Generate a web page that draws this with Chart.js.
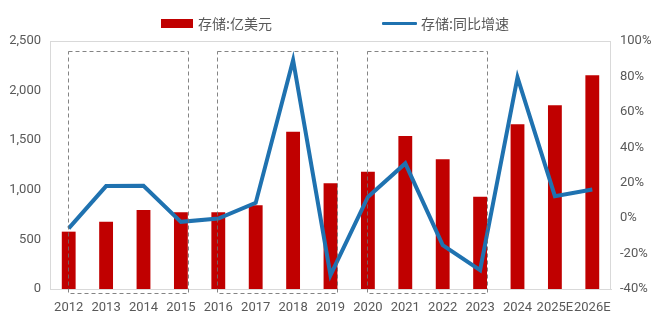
<!DOCTYPE html>
<html>
<head>
<meta charset="utf-8">
<script src="https://cdn.jsdelivr.net/npm/chart.js@4.4.1/dist/chart.umd.min.js"></script>
<style>
  html, body { margin: 0; padding: 0; background: #fff; }
  #wrap { position: relative; width: 660px; height: 324px; }
  #legend {
    position: absolute; top: 13px; left: 0; width: 660px; height: 20px;
    font-family: "Noto Sans CJK SC", sans-serif; font-size: 14px; color: #595959;
  }
  .item { position: absolute; top: 0; display: flex; align-items: center; height: 20px; }
  .swatch-bar { width: 32px; height: 9px; background: #c00000; margin-right: 5px; }
  .swatch-line { width: 35px; height: 3px; background: #1f72b0; margin-right: 4px; border-radius: 1px; }
</style>
</head>
<body>
<div id="wrap">
  <div id="legend">
    <div class="item" style="left:161px"><span class="swatch-bar"></span><span>存储:亿美元</span></div>
    <div class="item" style="left:382px"><span class="swatch-line"></span><span>存储:同比增速</span></div>
  </div>
  <canvas id="chart" width="660" height="324"></canvas>
</div>
<script>
/* ================= DATA ================= */

const years = ["2012", "2013", "2014", "2015", "2016", "2017", "2018", "2019",
  "2020", "2021", "2022", "2023", "2024", "2025E", "2026E"];

// 存储市场规模（亿美元）
const storageValue = [578, 678, 796, 773, 773, 843, 1586, 1065,
  1183, 1542, 1307, 930, 1660, 1852, 2154];

// 存储同比增速（%）
const storageGrowth = [-5.8, 18.1, 18.3, -2.1, -0.2, 8.6, 89.2, -32.2,
  12.0, 30.9, -15.2, -29.4, 79.4, 12.4, 16.2];

// dashed cycle boxes
const boxStart = ["2012", "2016", "2020"];
const boxEnd = ["2015", "2019", "2023"];
const boxTopValue = 2400;

const leftTicks = [0, 500, 1000, 1500, 2000, 2500];
const rightTicks = [-40, -20, 0, 20, 40, 60, 80, 100];

const tickFont = { family: "Roboto", size: 13 };
const tickColor = "#595959";

/* ================= PLUGINS ================= */

const frameAndBoxes = {
  id: "frameAndBoxes",
  afterDatasetsDraw(chart) {
    const { ctx, chartArea, scales } = chart;
    const x = scales.x;
    const y = scales.y;
    const step = x.getPixelForValue(1) - x.getPixelForValue(0);
    const barHalf = step * 0.37 / 2;

    ctx.save();
    ctx.strokeStyle = "#d9d9d9";
    ctx.lineWidth = 1;
    ctx.strokeRect(chartArea.left + 0.5, chartArea.top + 0.5,
      chartArea.width - 1, chartArea.height);

    ctx.strokeStyle = "rgba(110,110,110,0.85)";
    ctx.setLineDash([4, 3]);
    const top = Math.round(y.getPixelForValue(boxTopValue)) + 0.5;
    const bottom = chartArea.bottom + 4.5;
    boxStart.forEach((s, i) => {
      const l = Math.round(x.getPixelForValue(years.indexOf(s)) - 1) + 0.5;
      const r = Math.round(x.getPixelForValue(years.indexOf(boxEnd[i])) + barHalf) + 0.5;
      ctx.strokeRect(l, top, r - l, bottom - top);
    });
    ctx.restore();
  }
};

/* ================= CHART ================= */

const ctx = document.getElementById("chart").getContext("2d");

new Chart(ctx, {
  data: {
    labels: years,
    datasets: [
      {
        type: "line",
        label: "存储:同比增速",
        data: storageGrowth,
        yAxisID: "y1",
        borderColor: "#1f72b0",
        borderWidth: 4,
        pointRadius: 0,
        tension: 0,
        order: 0
      },
      {
        type: "bar",
        label: "存储:亿美元",
        data: storageValue,
        yAxisID: "y",
        backgroundColor: "#c00000",
        categoryPercentage: 1,
        barPercentage: 0.37,
        order: 1
      }
    ]
  },
  options: {
    responsive: false,
    animation: false,
    layout: { padding: { top: 41, left: 0, right: 0, bottom: 0 } },
    plugins: {
      legend: { display: false },
      tooltip: { enabled: false }
    },
    scales: {
      x: {
        offset: true,
        grid: { display: false, drawTicks: false },
        border: { display: true, color: "#d9d9d9" },
        ticks: {
          autoSkip: false, maxRotation: 0, padding: 11,
          font: tickFont, color: tickColor
        },
        afterFit(axis) { axis.height = 35; }
      },
      y: {
        position: "left",
        min: 0, max: 2500,
        grid: { display: false, drawTicks: false },
        border: { display: false },
        afterBuildTicks(axis) { axis.ticks = leftTicks.map(v => ({ value: v })); },
        ticks: {
          padding: 9, font: tickFont, color: tickColor,
          callback: v => v.toLocaleString("en-US")
        },
        afterFit(axis) { axis.width = 50; }
      },
      y1: {
        position: "right",
        min: -40, max: 100,
        grid: { display: false, drawTicks: false },
        border: { display: false },
        afterBuildTicks(axis) { axis.ticks = rightTicks.map(v => ({ value: v })); },
        ticks: {
          padding: 9, font: tickFont, color: tickColor,
          callback: v => v + "%"
        },
        afterFit(axis) { axis.width = 49; }
      }
    }
  },
  plugins: [frameAndBoxes]
});
</script>
</body>
</html>
